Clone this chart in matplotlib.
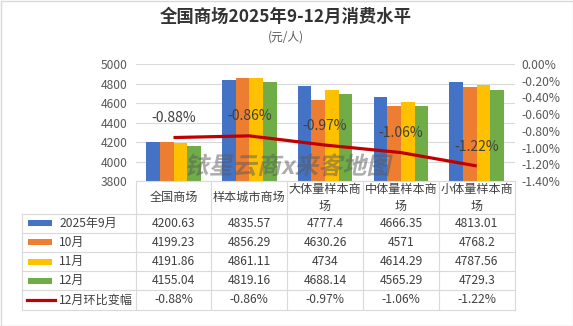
import numpy as np
import matplotlib
matplotlib.use('Agg')
import matplotlib.pyplot as plt
from matplotlib.patches import Rectangle, PathPatch
from matplotlib.lines import Line2D
from matplotlib.textpath import TextPath
from matplotlib.font_manager import FontProperties
from matplotlib.transforms import Affine2D

plt.rcParams['font.family'] = ['Noto Sans CJK SC', 'DejaVu Sans']

# ── Data ──────────────────────────────────────────────────────────────────────
categories = ['全国商场', '样本城市商场', '大体量样本商场', '中体量样本商场', '小体量样本商场']
months = ['2025年9月', '10月', '11月', '12月']
sep_vals = [4200.63, 4835.57, 4777.4, 4666.35, 4813.01]
oct_vals = [4199.23, 4856.29, 4630.26, 4571, 4768.2]
nov_vals = [4191.86, 4861.11, 4734, 4614.29, 4787.56]
dec_vals = [4155.04, 4819.16, 4688.14, 4565.29, 4729.3]
mom_change = [-0.88, -0.86, -0.97, -1.06, -1.22]
line_name = '12月环比变幅'

series = [sep_vals, oct_vals, nov_vals, dec_vals]
colors = ['#4472C4', '#ED7D31', '#FFC000', '#70AD47']
line_color = '#C00000'
grid_c = '#D9D9D9'
text_c = '#404040'

# ── Figure, pixel helper ──────────────────────────────────────────────────────
W, H = 573, 326
fig = plt.figure(figsize=(W / 100, H / 100), dpi=100)
fig.patch.set_facecolor('white')
pix = Affine2D().scale(1 / W, -1 / H).translate(0, 1) + fig.transFigure

pl, pr, pt, pb = 135.6, 514.6, 64, 181
ax = fig.add_axes([pl / W, 1 - pb / H, (pr - pl) / W, (pb - pt) / H])

# bars
n = len(categories)
x = np.arange(n)
bw = 0.18
for i, (vals, c) in enumerate(zip(series, colors)):
    ax.bar(x + (i - 1.5) * bw, vals, bw, color=c, zorder=2)
ax.set_xlim(-0.5, n - 0.5)
ax.set_ylim(3800, 5000)
ax.set_yticks(range(3800, 5001, 200))
ax.set_xticks([])
ax.yaxis.grid(True, color=grid_c, lw=0.8)
ax.set_axisbelow(True)
for s in ax.spines.values():
    s.set_visible(False)
ax.tick_params(axis='y', length=0, pad=6, labelsize=8.7, labelcolor='#595959')

# month-on-month line on the secondary axis
ax2 = ax.twinx()
ax2.set_zorder(1)
ax2.plot(x, mom_change, color=line_color, lw=2.3, solid_capstyle='butt')
ax2.set_ylim(-1.4, 0)
rticks = np.linspace(-1.4, 0, 8)
ax2.set_yticks(rticks)
ax2.set_yticklabels([f'{round(v, 2) + 0:.2f}%' for v in rticks])
ax2.tick_params(axis='y', length=0, pad=5, labelsize=8.7, labelcolor='#595959')
for s in ax2.spines.values():
    s.set_visible(False)
for i, v in enumerate(mom_change):
    ax2.annotate(f'{v:.2f}%', (x[i], v), xytext=(0, 14), textcoords='offset points',
                 ha='center', va='center', fontsize=10, color=text_c)

# watermark (slanted, bold)
wm_prop = FontProperties(family='Noto Sans CJK SC', weight='bold')
tp = TextPath((0, 0), '铱星云商x来客地图', size=24, prop=wm_prop)
bb = tp.get_extents()
wm_tr = Affine2D().skew_deg(12, 0).scale(1, -1).translate(287 - (bb.x0 + bb.x1) / 2, 174)
wm = PathPatch(tp, transform=wm_tr + pix, facecolor='#5a5a5a', edgecolor='none',
               alpha=0.5, zorder=0.5)
fig.add_artist(wm)

# ── Data table below the plot ─────────────────────────────────────────────────
col_x = pl + (pr - pl) * np.arange(n + 1) / n
tab_l = 22
head_b = 213.5
row_h = 19.2
row_y = head_b + row_h * np.arange(len(series) + 2)

def hline(y, x0, x1):
    fig.add_artist(Line2D([x0, x1], [y, y], color=grid_c, lw=0.8, transform=pix))

def vline(xv, y0, y1):
    fig.add_artist(Line2D([xv, xv], [y0, y1], color=grid_c, lw=0.8, transform=pix))

hline(pb, pl, pr)
for y in row_y:
    hline(y, tab_l, pr)
for xv in col_x:
    vline(xv, pb, row_y[-1])
vline(tab_l, head_b, row_y[-1])

# header labels
for j, name in enumerate(categories):
    label = name if len(name) <= 6 else name[:6] + '\n' + name[6:]
    fig.text((col_x[j] + col_x[j + 1]) / 2, (pb + head_b) / 2 + 0.5, label,
             transform=pix, ha='center', va='center', fontsize=8.7,
             color=text_c, linespacing=1.35)

# series rows
for i, (vals, c, m) in enumerate(zip(series, colors, months)):
    yc = (row_y[i] + row_y[i + 1]) / 2
    fig.add_artist(Rectangle((27.7, yc - 3), 24.6, 6, facecolor=c, edgecolor='none',
                             transform=pix))
    fig.text(59, yc, m, transform=pix, ha='left', va='center', fontsize=8.7, color=text_c)
    for j, v in enumerate(vals):
        fig.text((col_x[j] + col_x[j + 1]) / 2, yc, f'{v:g}', transform=pix,
                 ha='center', va='center', fontsize=8.7, color=text_c)

# line row
yc = (row_y[-2] + row_y[-1]) / 2
fig.add_artist(Line2D([27, 55], [yc, yc], color=line_color, lw=2.3, transform=pix))
fig.text(59, yc, line_name, transform=pix, ha='left', va='center', fontsize=8.7, color=text_c)
for j, v in enumerate(mom_change):
    fig.text((col_x[j] + col_x[j + 1]) / 2, yc, f'{v:.2f}%', transform=pix,
             ha='center', va='center', fontsize=8.7, color=text_c)

# titles and frame
fig.text(286, 17, '全国商场2025年9-12月消费水平', transform=pix, ha='center', va='center',
         fontsize=12.5, fontweight='bold', color='#333333')
fig.text(286, 37, '(元/人)', transform=pix, ha='center', va='center',
         fontsize=8.5, color='#595959')
fig.add_artist(Rectangle((0.5, 0.5), W - 1, H - 1, facecolor='none', edgecolor=grid_c,
                         lw=1, transform=pix))

fig.savefig('out.png', dpi=100)
